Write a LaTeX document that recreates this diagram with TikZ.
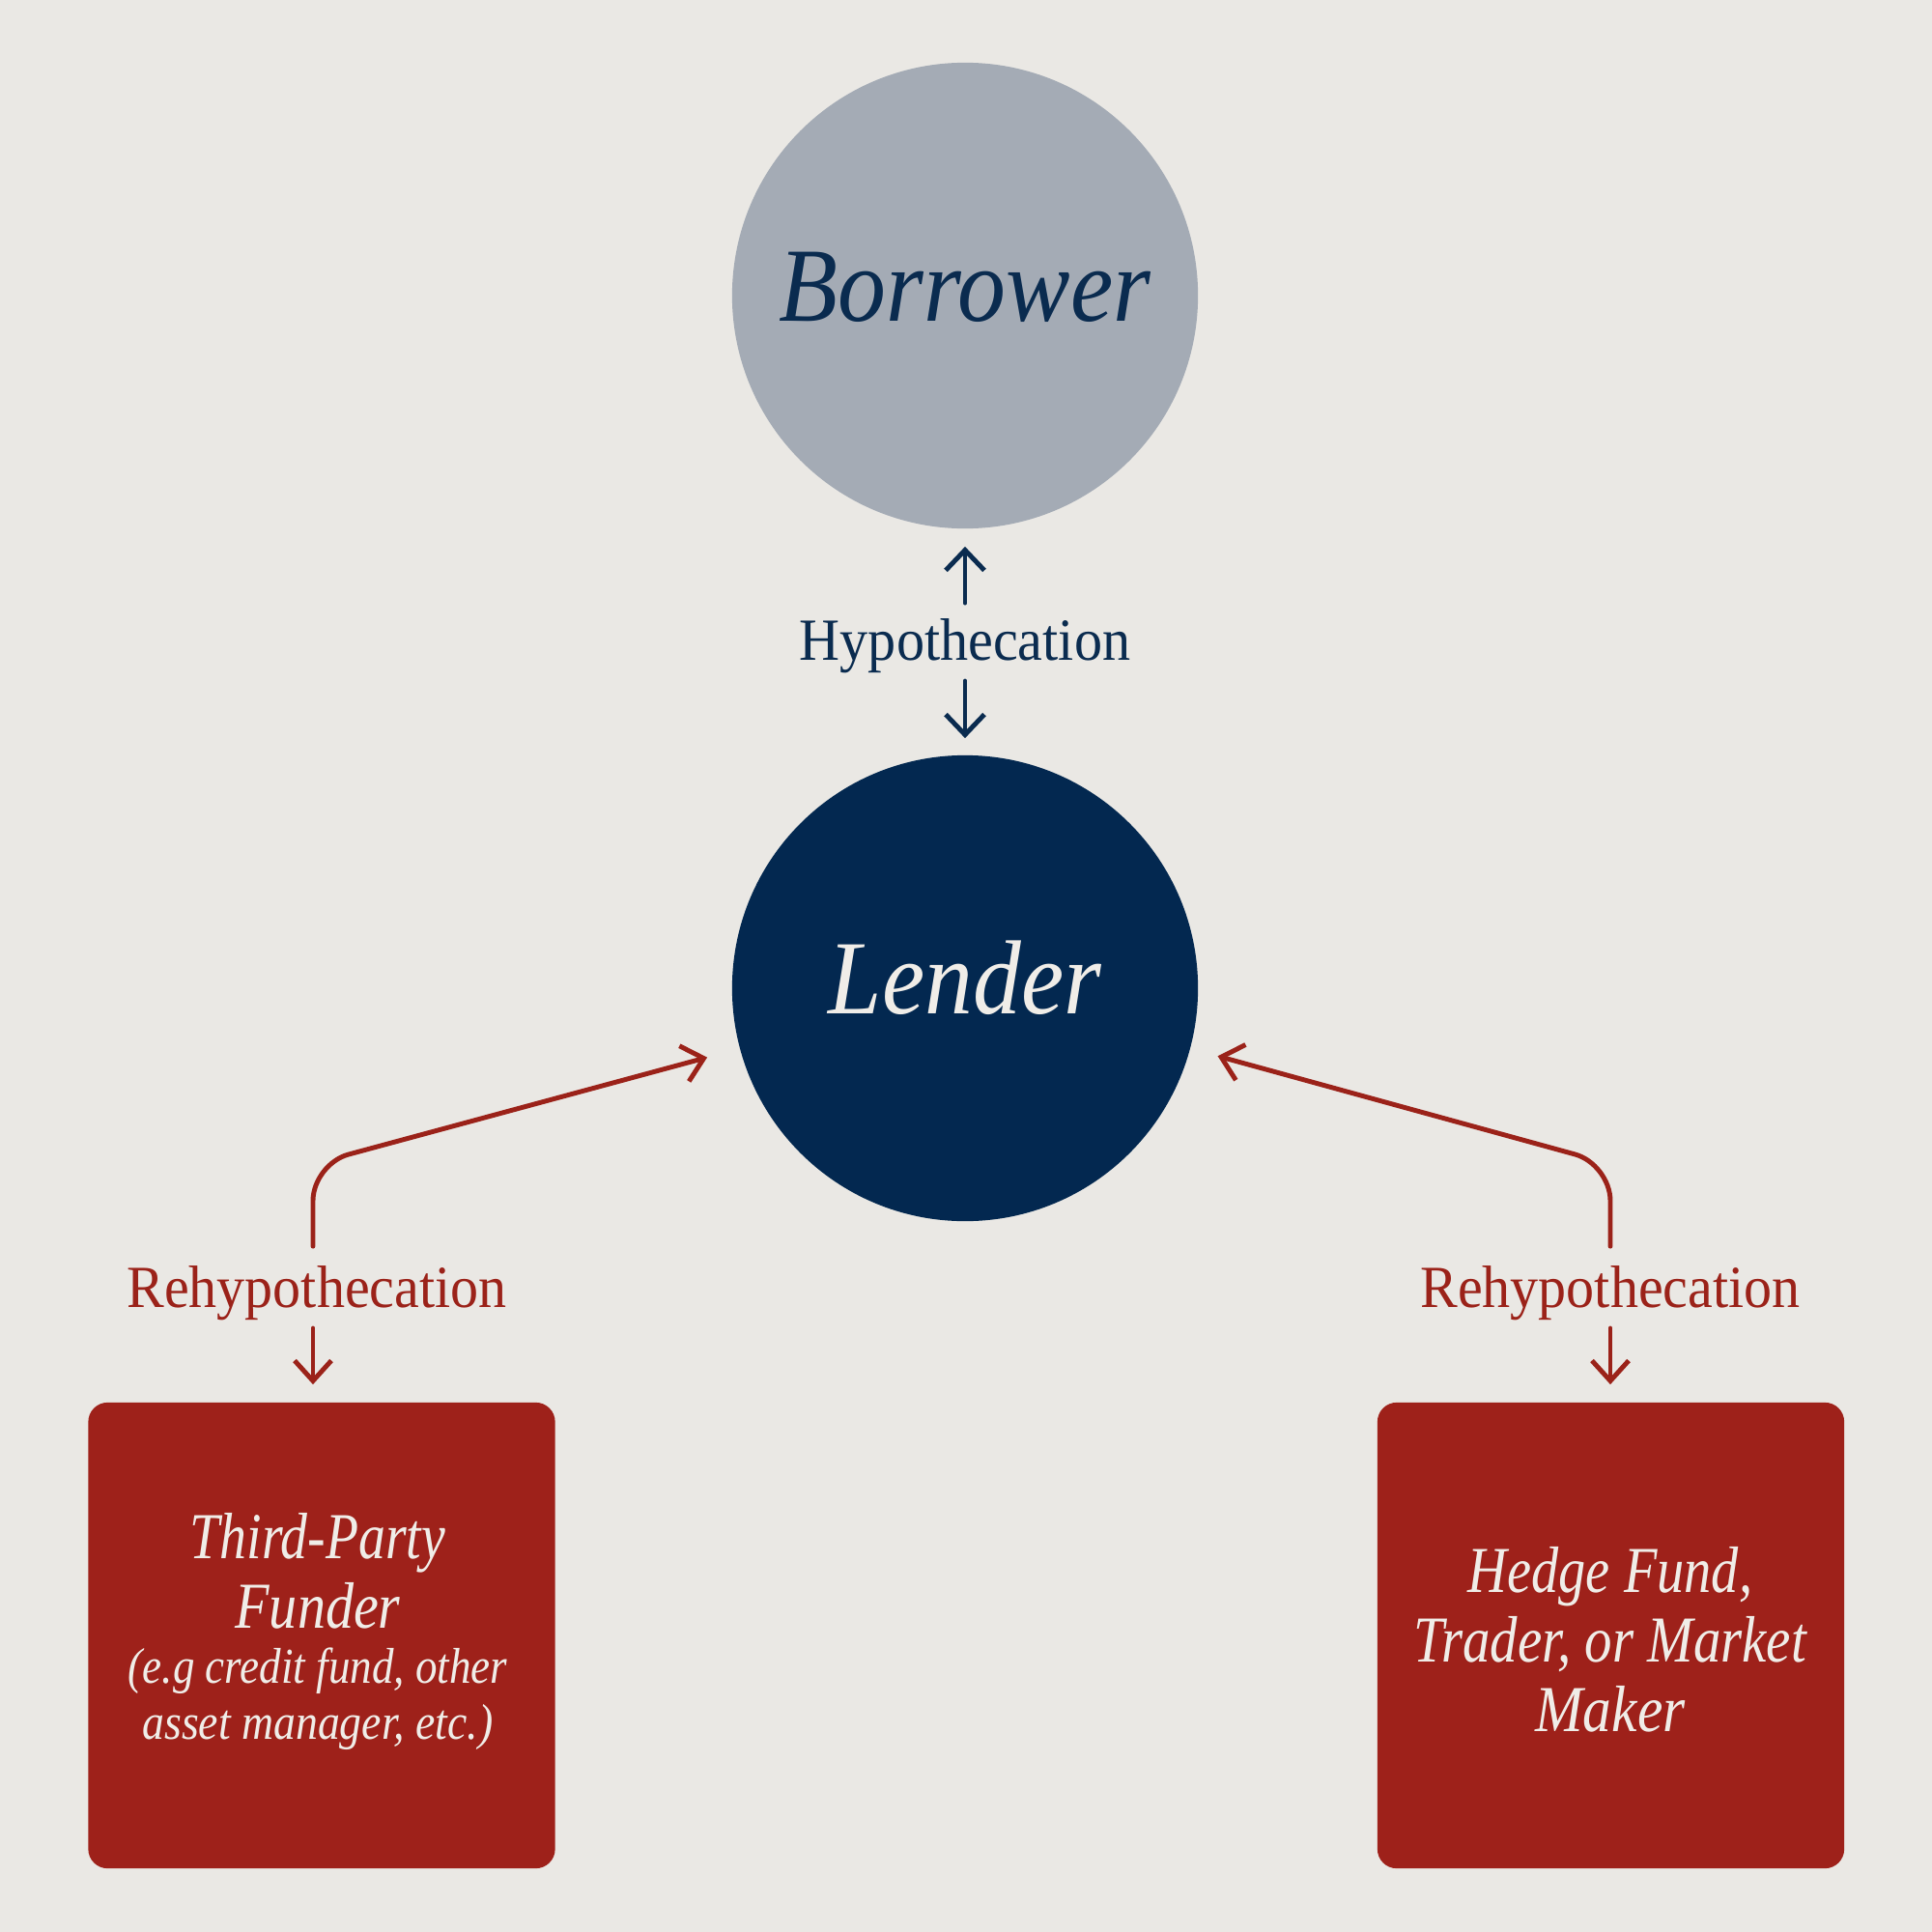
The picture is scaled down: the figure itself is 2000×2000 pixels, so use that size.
\documentclass[tikz,border=0pt]{standalone}
\usepackage{fontspec}
\setmainfont{Liberation Serif}
\usetikzlibrary{arrows.meta,calc}
\definecolor{bgc}{RGB}{234,232,228}
\definecolor{greyc}{RGB}{164,171,181}
\definecolor{navyc}{RGB}{3,40,80}
\definecolor{navyt}{RGB}{10,43,79}
\definecolor{redc}{RGB}{158,33,26}
\definecolor{redt}{RGB}{155,34,25}
\definecolor{paper}{RGB}{240,237,232}
\newcommand{\hw}[2]{\resizebox{#1}{\height}{#2}}
\begin{document}
\begin{tikzpicture}[x=0.01cm,y=-0.01cm,
  circ/.style={circle, minimum size=4.82cm, inner sep=0pt, text height=15pt, text depth=0pt, font=\fontsize{31}{36}\selectfont\itshape},
  lab/.style={anchor=base, inner sep=0pt, text height=12pt, text depth=3.8pt, font=\fontsize{17.6}{20}\selectfont},
  boxnode/.style={rounded corners=0.2cm, fill=redc, minimum width=4.83cm, minimum height=4.82cm, inner sep=0pt},
  btxt/.style={anchor=base, inner sep=0pt, text=paper, font=\fontsize{19.3}{22}\selectfont\itshape},
  stxt/.style={anchor=base, inner sep=0pt, text=paper, font=\fontsize{14.8}{17}\selectfont\itshape},
  navyarrow/.style={draw=navyt, line width=1.4pt, line cap=round, line join=round, -{Straight Barb[length=0.21cm,width=0.4cm]}},
  redarrow/.style={draw=redt, line width=1.4pt, line cap=round, line join=round, -{Straight Barb[length=0.21cm,width=0.38cm]}},
]
\fill[bgc] (0,0) rectangle (2000,2000);
\useasboundingbox (0,0) rectangle (2000,2000);

% circles
\node[circ, fill=greyc, text=navyt] (borrower) at (999,306) {\hw{3.84cm}{Borrower}};
\node[circ, fill=navyc, text=paper] (lender) at (999,1023) {\hw{2.82cm}{Lender}};

% hypothecation
\node[lab, text=navyt] (hyp) at (999,683) {\hw{3.42cm}{Hypothecation}};
\draw[navyarrow, shorten <=0.16cm, shorten >=0.18cm] (hyp.north) -- (borrower.south);
\draw[navyarrow, shorten <=0.08cm, shorten >=0.17cm] (hyp.south) -- (lender.north);

% boxes
\node[boxnode] (lbox) at (333,1693) {};
\node[boxnode] (rbox) at (1667.5,1693) {};

% rehypothecation labels
\node[lab, text=redt] (lrehyp) at (328,1353) {\hw{3.93cm}{Rehypothecation}};
\node[lab, text=redt] (rrehyp) at (1667,1353) {\hw{3.93cm}{Rehypothecation}};

\coordinate (lc) at (324,1205);
\coordinate (rc) at (1667,1205);
\draw[redarrow, rounded corners=0.38cm, shorten <=0.2cm, shorten >=0.345cm] (lc |- lrehyp.north) -- (lc) -- (lender.195);
\draw[redarrow, rounded corners=0.38cm, shorten <=0.2cm, shorten >=0.29cm] (rc |- rrehyp.north) -- (rc) -- (lender.-15);
\draw[redarrow, shorten <=0.08cm, shorten >=0.18cm] (lc |- lrehyp.south) -- (lc |- lbox.north);
\draw[redarrow, shorten <=0.08cm, shorten >=0.18cm] (rc |- rrehyp.south) -- (rc |- rbox.north);

% box texts
\node[btxt] (l1) at (329,1613) {\hw{2.64cm}{Third-Party}};
\node[btxt] (l2) at (329,1685) {\hw{1.71cm}{Funder}};
\node[stxt] (l3) at (329,1742) {\hw{3.92cm}{(e.g credit fund, other}};
\node[stxt] (l4) at (329,1800) {\hw{3.63cm}{asset manager, etc.)}};
\node[btxt] (r1) at (1667,1648) {\hw{2.94cm}{Hedge Fund,}};
\node[btxt] (r2) at (1667,1720) {\hw{4.06cm}{Trader, or Market}};
\node[btxt] (r3) at (1667,1792) {\hw{1.55cm}{Maker}};
\end{tikzpicture}
\end{document}
